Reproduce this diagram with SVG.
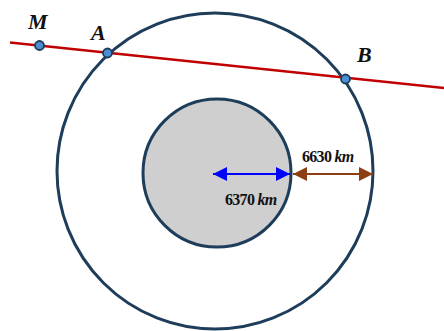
<svg xmlns="http://www.w3.org/2000/svg" width="444" height="331" viewBox="0 0 444 331">
<style>
.circ{fill:none;stroke:#1e3d5a;stroke-width:3}
.pt{fill:#4a8fd2;stroke:#1e3d5a;stroke-width:1.8}
.lbl{font-family:"Liberation Serif",serif;font-weight:bold;font-style:italic;font-size:22px;fill:#111}
.dim{font-family:"Liberation Serif",serif;font-weight:bold;font-size:16px;fill:#111;letter-spacing:-0.7px}
</style>
<defs>
<marker id="ab" viewBox="0 0 14 14" refX="14" refY="7" markerWidth="14" markerHeight="14" markerUnits="userSpaceOnUse" orient="auto-start-reverse"><path d="M0,0 L14,7 L0,14 Z" fill="#0000ff"/></marker>
<marker id="ar" viewBox="0 0 14 14" refX="14" refY="7" markerWidth="14" markerHeight="14" markerUnits="userSpaceOnUse" orient="auto-start-reverse"><path d="M0,0 L14,7 L0,14 Z" fill="#8b3f12"/></marker>
</defs>
<g id="outer-circle"><circle class="circ" cx="215" cy="171" r="158"/></g>
<g id="inner-circle"><circle cx="217" cy="173" r="74" fill="#cfcfcf" stroke="#1e3d5a" stroke-width="3"/></g>
<g id="connectors">
<line x1="10" y1="42.5" x2="444" y2="88" stroke="#c00000" stroke-width="2.5"/>
<line x1="213" y1="174" x2="290" y2="174" stroke="#0000ff" stroke-width="2" marker-start="url(#ab)" marker-end="url(#ab)"/>
<line x1="293" y1="174" x2="373" y2="174" stroke="#8b3f12" stroke-width="2" marker-start="url(#ar)" marker-end="url(#ar)"/>
</g>
<g id="M"><circle class="pt" cx="39.5" cy="45.5" r="4.5"/><text class="lbl" x="28" y="29">M</text></g>
<g id="A"><circle class="pt" cx="107.5" cy="53" r="4.5"/><text class="lbl" x="91" y="40">A</text></g>
<g id="B"><circle class="pt" cx="345.5" cy="79" r="4.5"/><text class="lbl" x="357" y="62">B</text></g>
<g id="label-6630"><text class="dim" x="302" y="162">6630 <tspan font-style="italic">km</tspan></text></g>
<g id="label-6370"><text class="dim" x="225" y="205">6370 <tspan font-style="italic">km</tspan></text></g>
</svg>
